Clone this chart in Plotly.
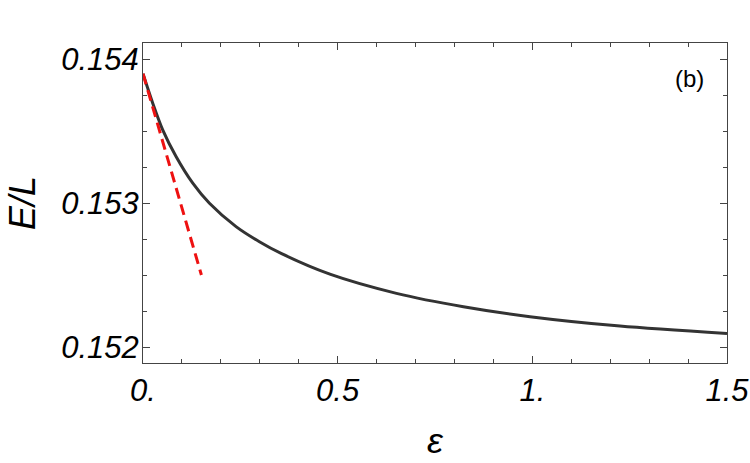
import plotly.graph_objects as go

# Data
eps_curve = [0, 0.025, 0.0506, 0.0849, 0.1278, 0.1707, 0.239, 0.299, 0.356, 0.48, 0.651, 0.823, 0.994, 1.225, 1.5]
E_curve = [0.153898, 0.153694, 0.153509, 0.153324, 0.153139, 0.153000, 0.152838, 0.152733, 0.152650,
           0.152508, 0.152375, 0.152282, 0.152213, 0.152148, 0.152097]
eps_lin = [0, 0.150]
E_lin = [0.153898, 0.152502]

x_tickvals = [0, 0.5, 1.0, 1.5]
x_ticktext = ["0.", "0.5", "1.", "1.5"]
y_tickvals = [0.152, 0.153, 0.154]
y_ticktext = ["0.152", "0.153", "0.154"]

FONT = "Liberation Sans, Arial, sans-serif"
FRAME = "#444444"

fig = go.Figure()
fig.add_trace(go.Scatter(x=eps_curve, y=E_curve, mode="lines",
                         line=dict(color="#333333", width=3, shape="spline", smoothing=0.8),
                         showlegend=False))
fig.add_trace(go.Scatter(x=eps_lin, y=E_lin, mode="lines",
                         line=dict(color="#ee1111", width=3, dash="11px,6px"),
                         showlegend=False))

fig.update_layout(
    width=750, height=463,
    margin=dict(l=143, r=23, t=43, b=100),
    paper_bgcolor="white", plot_bgcolor="white",
    xaxis=dict(range=[0, 1.5], tickvals=x_tickvals, ticktext=x_ticktext, automargin=False,
               showgrid=False, zeroline=False, showline=True, linecolor=FRAME, linewidth=1,
               mirror="allticks", ticks="inside", ticklen=7, tickcolor=FRAME, tickwidth=1,
               minor=dict(dtick=0.1, tick0=0, ticks="inside", ticklen=4, tickcolor=FRAME, showgrid=False),
               tickfont=dict(family=FONT, size=31, color="black", style="italic"),
               title=dict(text="ε", font=dict(family=FONT, size=36, color="black", style="italic"), standoff=20)),
    yaxis=dict(range=[0.151892, 0.154111], tickvals=y_tickvals, ticktext=y_ticktext, automargin=False,
               showgrid=False, zeroline=False, showline=True, linecolor=FRAME, linewidth=1,
               mirror="allticks", ticks="inside", ticklen=7, tickcolor=FRAME, tickwidth=1,
               ticklabelstandoff=-3,
               minor=dict(dtick=0.00025, tick0=0.152, ticks="inside", ticklen=4, tickcolor=FRAME, showgrid=False),
               tickfont=dict(family=FONT, size=31, color="black", style="italic"),
               title=dict(text="E/L", font=dict(family=FONT, size=36, color="black", style="italic"), standoff=14)),
    annotations=[dict(text="(b)", x=0.935, y=0.89, xref="paper", yref="paper", xanchor="center",
                      yanchor="middle", showarrow=False, font=dict(family=FONT, size=24, color="black"))],
)

fig.write_html("out.html")
